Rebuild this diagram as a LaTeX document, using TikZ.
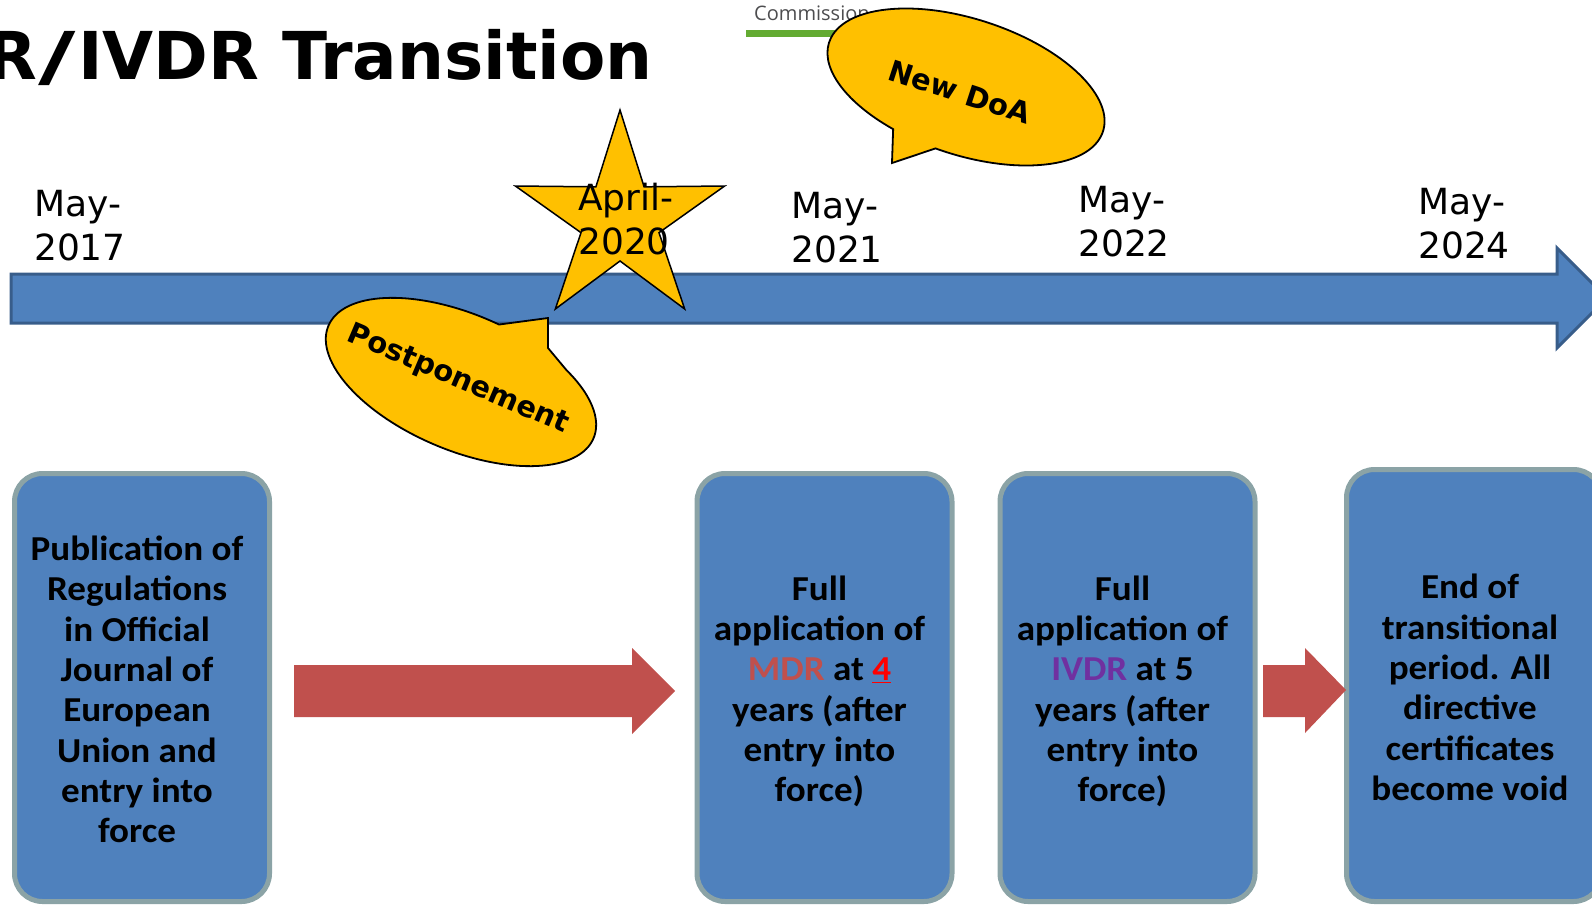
\documentclass[tikz,border=0pt]{standalone}
\usepackage{fontspec}
\setmainfont{DejaVu Sans}
\newfontfamily\dvs{DejaVu Sans}
\newfontfamily\carl{Carlito}[FakeStretch=1.06]
\newfontfamily\opsans{Open Sans}
\definecolor{blueF}{HTML}{4F81BD}
\definecolor{blueE}{HTML}{385D8A}
\definecolor{redA}{HTML}{C0504D}
\definecolor{callY}{HTML}{FFC000}
\definecolor{boxE}{HTML}{8BA3A6}
\definecolor{mdrC}{HTML}{C0504D}
\definecolor{ivdrC}{HTML}{7030A0}
\definecolor{greenL}{HTML}{63AB32}
\definecolor{grayT}{HTML}{4D4D4F}
\begin{document}
\begin{tikzpicture}[x=1pt,y=1pt,
  datelbl/.style={anchor=base west, align=left, inner sep=0pt, font=\dvs\fontsize{36}{44}\selectfont},
  boxsty/.style={draw=boxE, line width=5pt, fill=blueF, rounded corners=28pt, minimum width=255pt, minimum height=428pt, inner sep=0pt},
  boxtext/.style={align=center, inner sep=0pt, font=\carl\bfseries\fontsize{35}{40.3}\selectfont},
  callsty/.style={fill=callY, draw=black, line width=1.8pt, line join=miter},
  calltext/.style={font=\dvs\bfseries\fontsize{29}{34}\selectfont, inner sep=0pt},
  startsty/.style={fill=callY, draw=black, line width=1.5pt, line join=miter},
  blockarrow/.style={fill=redA},
  timelinesty/.style={fill=blueF, draw=blueE, line width=3pt, line join=miter}
]
\useasboundingbox (0,0) rectangle (1592,-907);
\clip (0,0) rectangle (1592,-907);

% title
\node[anchor=base east, inner sep=0pt, font=\dvs\bfseries\fontsize{66}{70}\selectfont] (title) at (653,-79) {R\kern2pt\scalebox{1.55}[1]{/}\kern2pt IVDR Transition};

% timeline arrow
\draw[timelinesty] (11,-274) -- (1557,-274) -- (1557,-248) -- (1607,-298) -- (1557,-348) -- (1557,-323) -- (11,-323) -- cycle;
\coordinate (timeline) at (809,-298);

% star
\begin{scope}[shift={(620,-220)}]
\draw[startsty] (90:110) -- (126:41) -- (162:110) -- (198:41) -- (234:110) -- (270:41) -- (306:110) -- (342:41) -- (18:110) -- (54:41) -- cycle;
\end{scope}

% date labels (anchor = baseline of the second line)
\node[datelbl] (d2017) at (34,-260) {May-\\2017};
\node[datelbl] (d2020) at (578,-254) {April-\\2020};
\node[datelbl] (d2021) at (791,-262) {May-\\2021};
\node[datelbl] (d2022) at (1078,-256) {May-\\2022};
\node[datelbl] (d2024) at (1418,-258) {May-\\2024};

% Postponement callout
\begin{scope}[shift={(461,-382)}, rotate=-23]
\draw[callsty] (85:144 and 68) arc[start angle=85, end angle=410, x radius=144, y radius=68] -- (66.8,65.3) -- (55.1,92.9) -- cycle;
\end{scope}
\node[calltext, rotate=-23] (postp) at (458,-380) {Postponement};

% Commission header
\fill[greenL] (746,-30) rectangle (900,-37);
\node[anchor=base west, inner sep=0pt, text=grayT, font=\opsans\fontsize{20}{23}\selectfont] (comm) at (754,-21) {Commission};

% New DoA callout
\begin{scope}[shift={(966,-87)}, rotate=-18]
\draw[callsty] (266:144 and 68) arc[start angle=266, end angle=607, x radius=144, y radius=68] -- (-46.9,-95.2) -- cycle;
\end{scope}
\node[calltext, rotate=-18] (doa) at (960,-92) {New DoA};

% boxes
\node[boxsty] (b1) at (142,-687.5) {};
\node[boxsty] (b2) at (824.5,-687.5) {};
\node[boxsty] (b3) at (1127.5,-687.5) {};
\node[boxsty, minimum height=432pt] (b4) at (1474,-685.5) {};

\node[boxtext] (t1) at ([xshift=-5pt,yshift=-2pt]b1.center) {Publication of\\Regulations\\in Official\\Journal of\\European\\Union and\\entry into\\force};
\node[boxtext] (t2) at ([xshift=-5pt,yshift=-4pt]b2.center) {Full\\application of\\{\color{mdrC}MDR} at {\color{red}\underline{4}}\\years (after\\entry into\\force)};
\node[boxtext] (t3) at ([xshift=-5pt,yshift=-4pt]b3.center) {Full\\application of\\{\color{ivdrC}IVDR} at 5\\years (after\\entry into\\force)};
\node[boxtext] (t4) at ([xshift=-4pt,yshift=-2pt]b4.center) {End of\\transitional\\period. All\\directive\\certificates\\become void};

% block arrows
\fill[blockarrow] (294,-665) -- (632,-665) -- (632,-648) -- (675,-691) -- (632,-734) -- (632,-717) -- (294,-717) -- cycle;
\fill[blockarrow] (1263,-665) -- (1305,-665) -- (1305,-648) -- (1346,-690) -- (1305,-733) -- (1305,-717) -- (1263,-717) -- cycle;
\end{tikzpicture}
\end{document}
